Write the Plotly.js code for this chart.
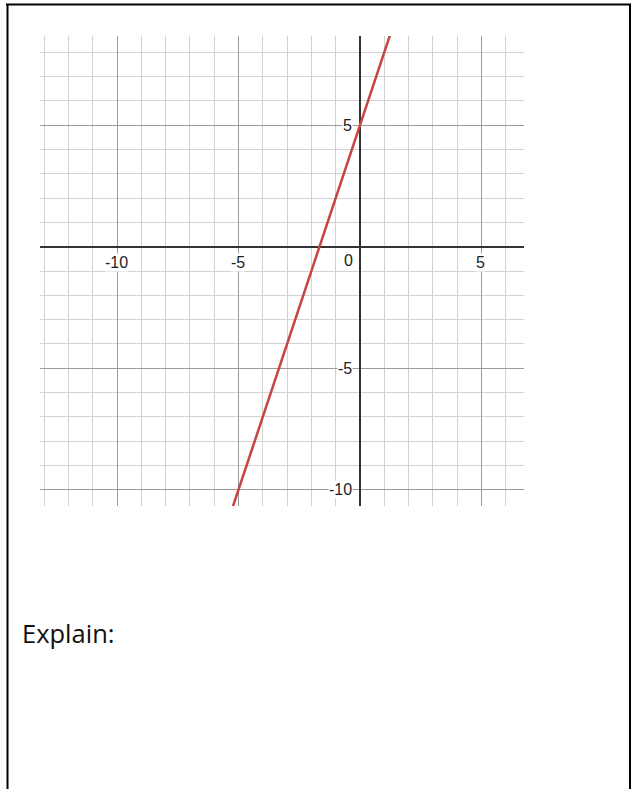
<!DOCTYPE html>
<html>
<head>
<meta charset="utf-8">
<script src="https://cdn.plot.ly/plotly-3.0.1.min.js"></script>
<style>
  html, body { margin: 0; padding: 0; background: #ffffff; }
  #chart { width: 632px; height: 789px; }
</style>
</head>
<body>
<div id="chart"></div>
<script>
// Line: y = 3x + 5 (passes (-5,-10), (0,5), (1,8)); extended beyond the view
var lineX = [-6, -5, 0, 1, 2];
var lineY = [-13, -10, 5, 8, 11];

// Visible window (graph units)
var xRange = [-13.17, 6.75];
var yRange = [-10.67, 8.67];

// Tick labels drawn next to the axes
var xTickVals = [-10, -5, 0, 5];
var xTickText = ['-10', '-5', '0', '5'];
var yTickVals = [-10, -5, 5];
var yTickText = ['-10', '-5', '5'];

var noteText = 'Explain:';

var W = 632, H = 789;
var L = 40, R = 524, T = 36, B = 506;
function px2paperX(px) { return (px - L) / (R - L); }
function px2paperY(py) { return (B - py) / (B - T); }

var tickFont = { family: 'Arial, "Liberation Sans", sans-serif', size: 16, color: '#222222' };

var annotations = [];
xTickVals.forEach(function (v, i) {
  var isZero = v === 0;
  annotations.push({
    x: v, y: 0, xref: 'x', yref: 'y',
    text: xTickText[i], showarrow: false,
    xanchor: isZero ? 'right' : 'center',
    xshift: isZero ? -6 : -1,
    yanchor: 'middle', yshift: isZero ? -14 : -16,
    font: tickFont, bgcolor: '#ffffff', borderpad: 0
  });
});
yTickVals.forEach(function (v, i) {
  annotations.push({
    x: 0, y: v, xref: 'x', yref: 'y',
    text: yTickText[i], showarrow: false,
    xanchor: 'right', xshift: -7,
    yanchor: 'middle', yshift: 0,
    font: tickFont, bgcolor: '#ffffff', borderpad: 0
  });
});
annotations.push({
  x: px2paperX(20), y: px2paperY(633), xref: 'paper', yref: 'paper',
  text: noteText, showarrow: false, xanchor: 'left', yanchor: 'middle',
  font: { family: '"Open Sans", "Noto Sans", sans-serif', size: 25.5, color: '#111111' }
});

var frameColor = '#000000';
var shapes = [
  { type: 'line', xref: 'paper', yref: 'paper',
    x0: px2paperX(6), x1: px2paperX(631), y0: px2paperY(4.5), y1: px2paperY(4.5),
    line: { color: frameColor, width: 2 } },
  { type: 'line', xref: 'paper', yref: 'paper',
    x0: px2paperX(7.5), x1: px2paperX(7.5), y0: px2paperY(4), y1: px2paperY(800),
    line: { color: frameColor, width: 2 } },
  { type: 'line', xref: 'paper', yref: 'paper',
    x0: px2paperX(630), x1: px2paperX(630), y0: px2paperY(4), y1: px2paperY(800),
    line: { color: frameColor, width: 2 } }
];

var axisCommon = {
  showgrid: true, gridcolor: '#9a9a9a', gridwidth: 1,
  dtick: 5, tick0: 0,
  minor: { dtick: 1, tick0: 0, showgrid: true, gridcolor: '#d2d2d2', gridwidth: 1 },
  zeroline: true, zerolinecolor: '#333333', zerolinewidth: 2,
  showticklabels: false, ticks: '', showline: false,
  fixedrange: true
};

var data = [{
  type: 'scatter', mode: 'lines',
  x: lineX, y: lineY,
  line: { color: '#c74440', width: 2.5 },
  hoverinfo: 'skip', showlegend: false
}];

var layout = {
  width: W, height: H,
  margin: { l: L, r: W - R, t: T, b: H - B, pad: 0 },
  paper_bgcolor: '#ffffff', plot_bgcolor: '#ffffff',
  xaxis: Object.assign({ range: xRange }, axisCommon),
  yaxis: Object.assign({ range: yRange }, axisCommon),
  annotations: annotations,
  shapes: shapes,
  showlegend: false
};

Plotly.newPlot('chart', data, layout, { displayModeBar: false, staticPlot: true });
</script>
</body>
</html>
